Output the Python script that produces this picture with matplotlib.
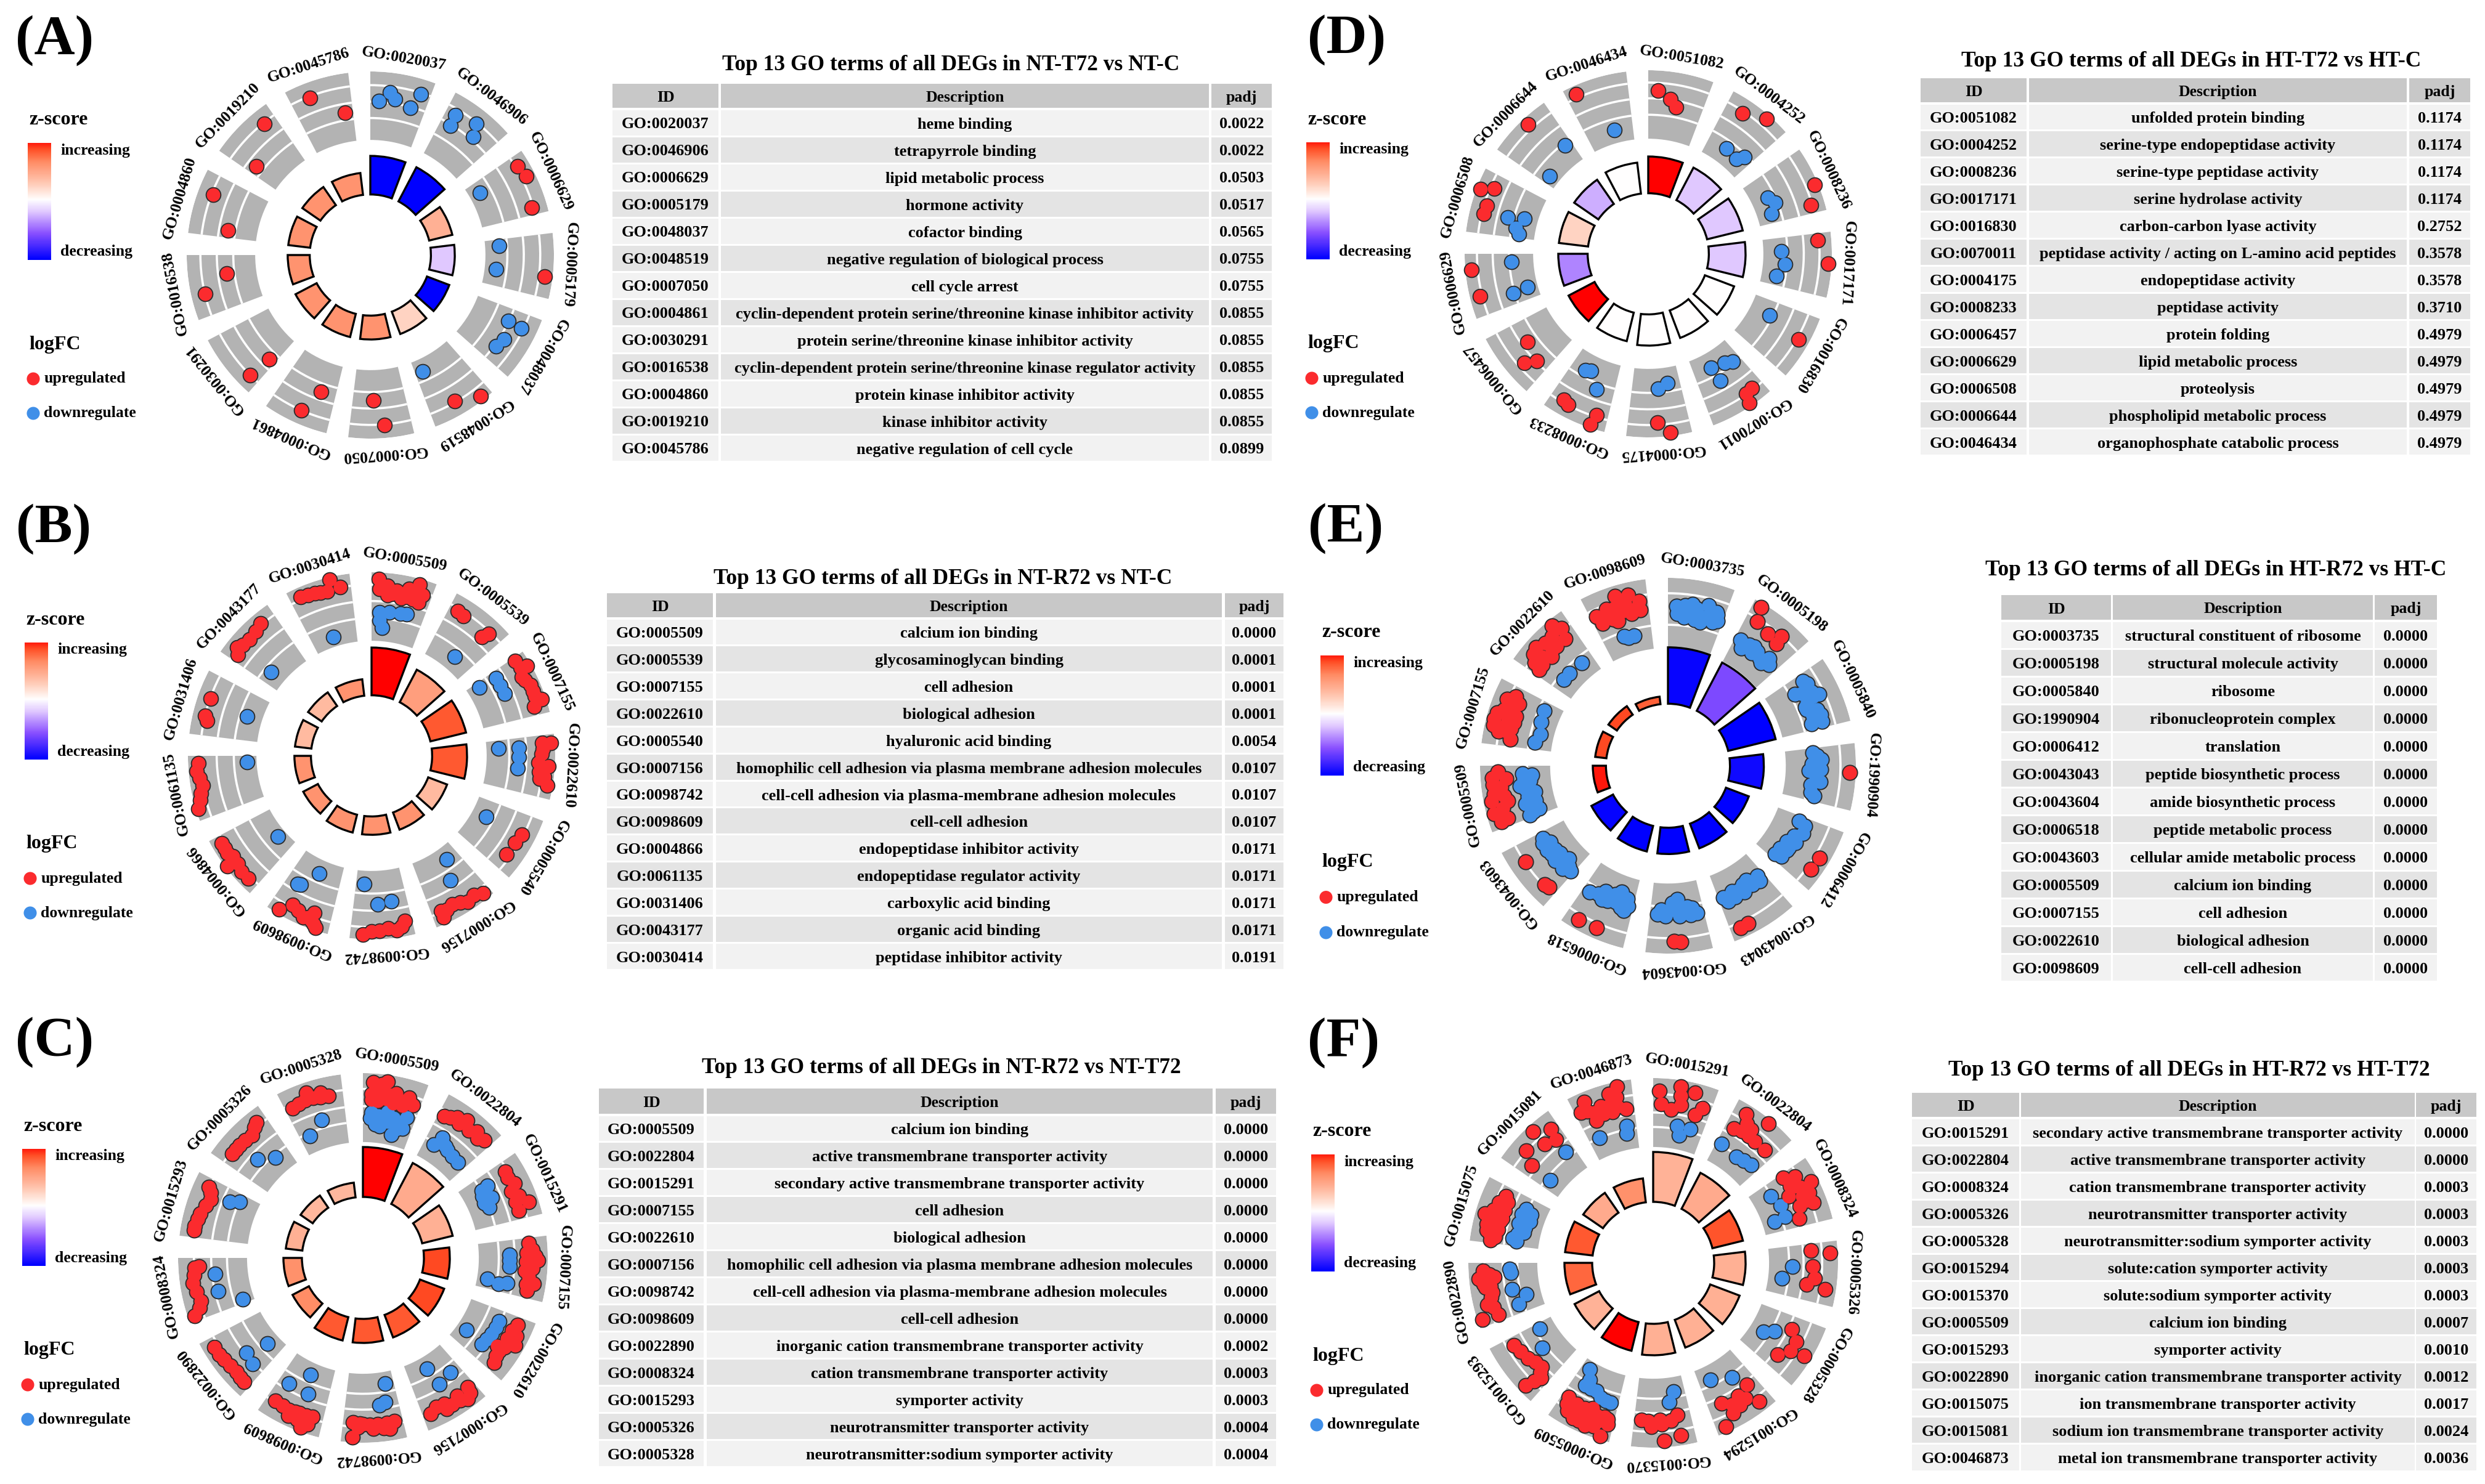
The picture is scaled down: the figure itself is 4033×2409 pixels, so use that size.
import numpy as np
import matplotlib
matplotlib.use("Agg")
import matplotlib.pyplot as plt
from matplotlib.colors import LinearSegmentedColormap
from matplotlib.patches import Rectangle

plt.rcParams["font.family"] = ["Liberation Serif", "DejaVu Serif"]
plt.rcParams["font.weight"] = "bold"

# ---------- Panel A : NT-T72 vs NT-C ----------
A_ids = ["GO:0020037", "GO:0046906", "GO:0006629", "GO:0005179", "GO:0048037", "GO:0048519", "GO:0007050",
         "GO:0004861", "GO:0030291", "GO:0016538", "GO:0004860", "GO:0019210", "GO:0045786"]
A_desc = ["heme binding", "tetrapyrrole binding", "lipid metabolic process", "hormone activity", "cofactor binding",
          "negative regulation of biological process", "cell cycle arrest",
          "cyclin-dependent protein serine/threonine kinase inhibitor activity",
          "protein serine/threonine kinase inhibitor activity",
          "cyclin-dependent protein serine/threonine kinase regulator activity",
          "protein kinase inhibitor activity", "kinase inhibitor activity", "negative regulation of cell cycle"]
A_padj = ["0.0022", "0.0022", "0.0503", "0.0517", "0.0565", "0.0755", "0.0755", "0.0855", "0.0855", "0.0855",
          "0.0855", "0.0855", "0.0899"]
A_bar = [.54, .54, .46, .46, .46, .46, .46, .46, .46, .45, .45, .45, .45]
A_z = [-1, -1, .42, -.2, -1, .22, .58, .58, .58, .58, .58, .58, .58]
A_rings = [.32, .56, .80]
# each term: (position across the sector, position across the logFC band)
A_up = [[], [], [(.17, .83), (.37, .87), (.88, .78)], [(.67, .88)], [], [(.17, .93), (.55, .78)],
        [(.61, .44), (.44, .81)], [(.29, .44), (.49, .8)], [(.12, .44), (.17, .8)], [(.65, .43), (.36, .8)],
        [(.68, .78), (.14, .43)], [(.79, .78), (.16, .43)], [(.32, .78), (.85, .43)]]
A_down = [[(.15, .57), (.33, .71), (.43, .62), (.73, .55), (.84, .78)],
          [(.17, .71), (.2, .54), (.54, .78), (.64, .61)], [(.25, .16)], [(.14, .2), (.64, .17)],
          [(.23, .55), (.25, .77), (.55, .63), (.73, .59)], [(.83, .18)], [], [], [], [], [], [], []]

# ---------- Panel B : NT-R72 vs NT-C ----------
B_ids = ["GO:0005509", "GO:0005539", "GO:0007155", "GO:0022610", "GO:0005540", "GO:0007156", "GO:0098742",
         "GO:0098609", "GO:0004866", "GO:0061135", "GO:0031406", "GO:0043177", "GO:0030414"]
B_desc = ["calcium ion binding", "glycosaminoglycan binding", "cell adhesion", "biological adhesion",
          "hyaluronic acid binding", "homophilic cell adhesion via plasma membrane adhesion molecules",
          "cell-cell adhesion via plasma-membrane adhesion molecules", "cell-cell adhesion",
          "endopeptidase inhibitor activity", "endopeptidase regulator activity", "carboxylic acid binding",
          "organic acid binding", "peptidase inhibitor activity"]
B_padj = ["0.0000", "0.0001", "0.0001", "0.0001", "0.0054", "0.0107", "0.0107", "0.0107", "0.0171", "0.0171",
          "0.0171", "0.0171", "0.0191"]
B_bar = [.59, .53, .53, .52, .44, .43, .43, .43, .42, .42, .42, .42, .42]
B_z = [1, .52, .8, .8, .36, .58, .58, .58, .58, .58, .36, .36, .58]
B_rings = [.33, .58, .82]
B_up = [[(.12, .9), (.26, .81), (.42, .76), (.61, .82), (.75, .92), (.85, .78), (.71, .68), (.51, .66), (.27, .68),
         (.13, .76), (.2, .75), (.35, .75), (.55, .74), (.7, .75), (.35, .7), (.6, .7), (.82, .66)],
        [(.15, .78), (.27, .76), (.78, .79), (.73, .69)],
        [(.05, .83), (.22, .94), (.33, .8), (.51, .86), (.7, .86), (.78, .94), (.85, .8), (.2, .85), (.4, .82), (.62, .86)],
        [(.12, .82), (.13, .94), (.3, .8), (.45, .76), (.5, .91), (.67, .86), (.79, .92), (.7, .8), (.22, .82), (.55, .84), (.6, .78)],
        [(.33, .8), (.5, .77), (.74, .76)],
        [(.12, .9), (.39, .87), (.63, .79), (.84, .8), (.84, .9), (.25, .84), (.5, .82), (.75, .82)],
        [(.12, .78), (.27, .89), (.54, .88), (.8, .93), (.4, .85), (.67, .88), (.18, .85)],
        [(.68, .78), (.83, .94), (.44, .88), (.3, .76), (.2, .96), (.55, .82), (.37, .85), (.3, .88), (.25, .92)],
        [(.87, .85), (.7, .86), (.53, .97), (.46, .83), (.17, .86), (.78, .85), (.6, .82), (.32, .86)],
        [(.88, .85), (.76, .88), (.52, .82), (.4, .87), (.18, .96), (.65, .85), (.3, .9)],
        [(.61, .81), (.32, .82), (.25, .78)],
        [(.74, .84), (.44, .78), (.21, .84), (.12, .77), (.6, .8), (.3, .8)],
        [(.18, .86), (.41, .83), (.61, .81), (.69, .96), (.83, .83), (.3, .84), (.5, .82)]]
B_down = [[(.15, .42), (.34, .43), (.67, .45), (.55, .44), (.22, .2), (.16, .3)],
          [(.59, .21)], [(.11, .18), (.13, .46), (.29, .46), (.46, .46)],
          [(.17, .18), (.18, .47), (.36, .47), (.56, .46)], [(.35, .21)],
          [(.27, .19), (.44, .47)], [(.83, .19), (.55, .49), (.29, .46)],
          [(.49, .2), (.78, .48), (.72, .46)], [(.37, .13)], [(.86, .14)], [(.51, .22)], [(.25, .23)], [(.47, .14)]]

# ---------- Panel C : NT-R72 vs NT-T72 ----------
C_ids = ["GO:0005509", "GO:0022804", "GO:0015291", "GO:0007155", "GO:0022610", "GO:0007156", "GO:0098742",
         "GO:0098609", "GO:0022890", "GO:0008324", "GO:0015293", "GO:0005326", "GO:0005328"]
C_desc = ["calcium ion binding", "active transmembrane transporter activity",
          "secondary active transmembrane transporter activity", "cell adhesion", "biological adhesion",
          "homophilic cell adhesion via plasma membrane adhesion molecules",
          "cell-cell adhesion via plasma-membrane adhesion molecules", "cell-cell adhesion",
          "inorganic cation transmembrane transporter activity", "cation transmembrane transporter activity",
          "symporter activity", "neurotransmitter transporter activity", "neurotransmitter:sodium symporter activity"]
C_padj = ["0.0000", "0.0000", "0.0000", "0.0000", "0.0000", "0.0000", "0.0000", "0.0000", "0.0002", "0.0003",
          "0.0003", "0.0004", "0.0004"]
C_bar = [.6, .58, .5, .47, .47, .46, .46, .46, .43, .43, .42, .41, .41]
C_z = [1, .45, .42, .85, .85, .8, .8, .8, .62, .6, .42, .38, .38]
C_rings = [.29, .52, .77]
C_up = [[(.16, .87), (.38, .9), (.14, .7), (.44, .72), (.77, .74), (.87, .65), (.53, .6), (.26, .61), (.3, .75),
         (.6, .68), (.7, .6), (.4, .65), (.15, .62), (.55, .75), (.3, .85)],
        [(.1, .69), (.3, .77), (.46, .82), (.69, .79), (.88, .77), (.2, .72), (.38, .72), (.58, .72), (.78, .72)],
        [(.16, .73), (.41, .77), (.62, .75), (.77, .86), (.85, .68), (.27, .72), (.5, .68), (.7, .68)],
        [(.09, .73), (.37, .86), (.4, .69), (.65, .74), (.88, .74), (.2, .78), (.25, .7), (.5, .78), (.55, .68), (.78, .72),
         (.3, .82), (.75, .82)],
        [(.13, .76), (.41, .72), (.44, .87), (.66, .71), (.86, .75), (.25, .72), (.55, .75), (.75, .72), (.3, .82), (.6, .65)],
        [(.12, .73), (.24, .87), (.49, .81), (.74, .73), (.87, .78), (.35, .74), (.6, .74), (.35, .82), (.6, .82), (.15, .82)],
        [(.14, .73), (.42, .74), (.67, .73), (.83, .71), (.83, .92), (.23, .83), (.27, .74), (.55, .74), (.33, .8), (.75, .78),
         (.72, .72), (.5, .8)],
        [(.85, .75), (.58, .77), (.18, .74), (.3, .94), (.4, .75), (.7, .76), (.48, .76), (.28, .75), (.22, .86), (.4, .85),
         (.55, .85)],
        [(.84, .83), (.59, .81), (.31, .79), (.11, .81), (.7, .83), (.45, .8), (.2, .8)],
        [(.84, .76), (.59, .81), (.28, .75), (.09, .9), (.72, .78), (.45, .78), (.18, .8), (.85, .7)],
        [(.85, .78), (.68, .68), (.4, .76), (.19, .8), (.78, .72), (.55, .72), (.3, .78), (.12, .8)],
        [(.83, .82), (.64, .72), (.38, .74), (.19, .74), (.75, .78), (.5, .73), (.28, .74)],
        [(.12, .72), (.36, .76), (.62, .73), (.42, .85), (.64, .79), (.25, .74), (.5, .75), (.75, .72)]]
C_down = [[(.16, .43), (.46, .47), (.83, .45), (.25, .27), (.82, .28), (.62, .15), (.5, .33), (.3, .4), (.6, .4), (.7, .35),
           (.35, .25), (.7, .25), (.15, .35)],
          [(.21, .26), (.28, .41), (.5, .31), (.83, .27), (.35, .35), (.42, .33), (.65, .28)],
          [(.22, .4), (.36, .27), (.61, .29), (.25, .3), (.45, .38), (.5, .25)],
          [(.28, .45), (.49, .45), (.79, .15), (.81, .44), (.86, .32), (.38, .45)],
          [(.68, .15), (.73, .45), (.47, .49), (.2, .5), (.33, .5), (.6, .47)], [(.55, .18), (.2, .41), (.5, .46)],
          [(.18, .17), (.25, .43), (.36, .47)], [(.49, .18), (.8, .43), (.39, .45)],
          [(.31, .18), (.45, .5), (.22, .54)], [(.09, .16), (.38, .47), (.7, .48)],
          [(.77, .41), (.85, .28)], [(.41, .41), (.69, .25)], [(.53, .41), (.2, .25)]]

# ---------- Panel D : HT-T72 vs HT-C ----------
D_ids = ["GO:0051082", "GO:0004252", "GO:0008236", "GO:0017171", "GO:0016830", "GO:0070011", "GO:0004175",
         "GO:0008233", "GO:0006457", "GO:0006629", "GO:0006508", "GO:0006644", "GO:0046434"]
D_desc = ["unfolded protein binding", "serine-type endopeptidase activity", "serine-type peptidase activity",
          "serine hydrolase activity", "carbon-carbon lyase activity",
          "peptidase activity / acting on L-amino acid peptides", "endopeptidase activity", "peptidase activity",
          "protein folding", "lipid metabolic process", "proteolysis", "phospholipid metabolic process",
          "organophosphate catabolic process"]
D_padj = ["0.1174", "0.1174", "0.1174", "0.1174", "0.2752", "0.3578", "0.3578", "0.3710", "0.4979", "0.4979",
          "0.4979", "0.4979", "0.4979"]
D_bar = [.53, .53, .53, .53, .5, .49, .5, .49, .49, .49, .49, .49, .5]
D_z = [1, -.2, -.2, -.2, 0, 0, 0, 0, 1, -.4, .22, -.28, 0]
D_rings = [.35, .59, .82]
D_up = [[(.17, .71), (.39, .6), (.51, .5)], [(.3, .79), (.65, .94)], [(.58, .95), (.87, .8)], [(.11, .8), (.48, .95)],
        [(.43, .85)], [(.19, .79), (.31, .81), (.36, .95)], [(.52, .79), (.33, .95)],
        [(.78, .78), (.68, .81), (.19, .79), (.24, .95)], [(.59, .5), (.34, .73), (.22, .58)],
        [(.75, .91), (.32, .85)], [(.68, .94), (.77, .76), (.46, .78), (.33, .79)], [(.6, .9)], [(.16, .88)]]
D_down = [[], [(.43, .24), (.73, .21), (.83, .31)], [(.46, .25), (.61, .32), (.8, .21)],
          [(.28, .26), (.54, .32), (.81, .22)], [(.3, .31)],
          [(.61, .22), (.31, .26), (.17, .32), (.57, .45)], [(.26, .23), (.47, .29)],
          [(.7, .25), (.59, .22), (.34, .44)], [], [(.84, .32), (.26, .15), (.22, .37)],
          [(.37, .44), (.43, .2), (.2, .29), (.09, .23)], [(.86, .32), (.17, .15)], [(.6, .19)]]

# ---------- Panel E : HT-R72 vs HT-C ----------
E_ids = ["GO:0003735", "GO:0005198", "GO:0005840", "GO:1990904", "GO:0006412", "GO:0043043", "GO:0043604",
         "GO:0006518", "GO:0043603", "GO:0005509", "GO:0007155", "GO:0022610", "GO:0098609"]
E_desc = ["structural constituent of ribosome", "structural molecule activity", "ribosome",
          "ribonucleoprotein complex", "translation", "peptide biosynthetic process", "amide biosynthetic process",
          "peptide metabolic process", "cellular amide metabolic process", "calcium ion binding", "cell adhesion",
          "biological adhesion", "cell-cell adhesion"]
E_padj = ["0.0000"] * 13
E_bar = [.63, .62, .59, .51, .46, .47, .47, .47, .46, .40, .39, .385, .37]
E_z = [-.97, -.6, -1, -.95, -1, -1, -1, -1, -.98, .95, .85, .85, .78]
E_rings = [.33, .78]
E_up = [[], [(.13, .94), (.2, .74), (.45, .68), (.65, .77), (.67, .65)], [], [(.44, .91)], [(.51, .85), (.73, .84)],
        [(.7, .84), (.84, .85)], [(.57, .83), (.46, .84)], [(.78, .86), (.48, .85)], [(.7, .77), (.14, .74), (.22, .76)],
        [(.81, .83), (.78, .64), (.55, .83), (.4, .66), (.26, .89), (.13, .72), (.65, .72), (.9, .75), (.7, .83), (.5, .7),
         (.3, .75), (.2, .8), (.45, .88), (.1, .82)],
        [(.84, .7), (.58, .79), (.39, .89), (.53, .6), (.22, .79), (.13, .6), (.35, .7), (.75, .8), (.65, .68), (.45, .7),
         (.3, .62), (.25, .7), (.42, .6), (.75, .62), (.5, .87), (.3, .87)],
        [(.76, .91), (.79, .65), (.5, .79), (.41, .59), (.25, .81), (.1, .61), (.58, .72), (.65, .8), (.6, .65), (.5, .65),
         (.3, .7), (.2, .62), (.35, .85), (.15, .72), (.85, .8)],
        [(.1, .68), (.43, .7), (.7, .82), (.85, .7), (.69, .55), (.42, .5), (.25, .6), (.55, .62), (.2, .6), (.3, .72),
         (.55, .78), (.75, .6), (.62, .72), (.35, .55), (.15, .55), (.85, .58), (.5, .85)]]
E_down = [[(.17, .49), (.42, .65), (.68, .68), (.87, .58), (.83, .46), (.5, .44), (.3, .62), (.65, .5), (.3, .45), (.5, .6),
           (.7, .5), (.15, .6), (.9, .5), (.42, .52), (.6, .42), (.85, .62)],
          [(.11, .39), (.43, .32), (.83, .36), (.3, .4), (.62, .33), (.2, .3), (.5, .38), (.7, .3), (.75, .42), (.4, .42)],
          [(.13, .59), (.44, .61), (.67, .59), (.89, .61), (.88, .45), (.3, .48), (.55, .45), (.2, .62), (.35, .62), (.5, .5),
           (.6, .45), (.75, .5), (.78, .62), (.45, .7), (.25, .4)],
          [(.09, .39), (.22, .51), (.43, .33), (.62, .5), (.84, .39), (.4, .5), (.3, .38), (.5, .42), (.7, .38), (.15, .45), (.9, .45)],
          [(.11, .35), (.28, .47), (.56, .33), (.86, .39), (.7, .4), (.15, .45), (.4, .38), (.5, .45), (.65, .4), (.75, .3), (.9, .3)],
          [(.12, .34), (.46, .32), (.84, .44), (.22, .38), (.6, .36), (.3, .4), (.35, .3), (.5, .42), (.7, .42), (.7, .33),
           (.15, .42), (.9, .36)],
          [(.47, .23), (.13, .46), (.37, .43), (.71, .46), (.86, .44), (.55, .38), (.2, .38), (.5, .38), (.3, .35), (.6, .35),
           (.45, .47), (.8, .38), (.25, .47), (.58, .28)],
          [(.3, .24), (.1, .4), (.49, .43), (.86, .44), (.6, .32), (.25, .36), (.2, .36), (.15, .3), (.35, .4), (.7, .4),
           (.4, .3), (.6, .45), (.22, .45), (.15, .48)],
          [(.88, .38), (.57, .32), (.25, .26), (.06, .37), (.4, .42), (.72, .36), (.8, .42), (.65, .42), (.55, .4), (.3, .35),
           (.15, .33), (.75, .32), (.45, .3), (.2, .42)],
          [(.81, .27), (.62, .45), (.47, .25), (.28, .42), (.12, .25), (.05, .41), (.75, .38), (.7, .3), (.55, .38), (.4, .36),
           (.2, .35), (.85, .4), (.1, .34), (.3, .27)],
          [(.82, .25), (.58, .23), (.33, .19), (.14, .25)], [(.74, .23), (.41, .25), (.24, .25)],
          [(.51, .23), (.43, .27), (.63, .24)]]

# ---------- Panel F : HT-R72 vs HT-T72 ----------
F_ids = ["GO:0015291", "GO:0022804", "GO:0008324", "GO:0005326", "GO:0005328", "GO:0015294", "GO:0015370",
         "GO:0005509", "GO:0015293", "GO:0022890", "GO:0015075", "GO:0015081", "GO:0046873"]
F_desc = ["secondary active transmembrane transporter activity", "active transmembrane transporter activity",
          "cation transmembrane transporter activity", "neurotransmitter transporter activity",
          "neurotransmitter:sodium symporter activity", "solute:cation symporter activity",
          "solute:sodium symporter activity", "calcium ion binding", "symporter activity",
          "inorganic cation transmembrane transporter activity", "ion transmembrane transporter activity",
          "sodium ion transmembrane transporter activity", "metal ion transmembrane transporter activity"]
F_padj = ["0.0000", "0.0000", "0.0003", "0.0003", "0.0003", "0.0003", "0.0003", "0.0007", "0.0010", "0.0012",
          "0.0017", "0.0024", "0.0036"]
F_bar = [.6, .55, .5, .5, .5, .49, .5, .49, .48, .48, .48, .46, .46]
F_z = [.4, .45, .82, .42, .42, .42, .42, 1, .4, .75, .8, .45, .6]
F_rings = [.29, .5, .77]
F_up = [[(.1, .81), (.43, .91), (.67, .86), (.14, .63), (.48, .64), (.85, .67), (.76, .55), (.32, .56), (.45, .77)],
        [(.21, .86), (.16, .59), (.42, .72), (.57, .94), (.59, .62), (.82, .62), (.3, .62), (.45, .62), (.3, .75)],
        [(.07, .57), (.16, .72), (.35, .89), (.41, .51), (.51, .69), (.67, .8), (.85, .53), (.25, .6), (.65, .6), (.3, .65),
         (.5, .8), (.6, .72), (.35, .72)],
        [(.12, .61), (.18, .89), (.4, .63), (.72, .57), (.76, .84), (.6, .67)],
        [(.23, .55), (.39, .69), (.75, .56), (.57, .69), (.52, .89)],
        [(.2, .55), (.43, .61), (.75, .59), (.2, .85), (.85, .92), (.49, .74), (.65, .79), (.35, .7), (.6, .67)],
        [(.87, .6), (.52, .66), (.23, .55), (.23, .85), (.5, .91), (.7, .7), (.35, .62), (.55, .6), (.75, .62)],
        [(.88, .62), (.78, .8), (.56, .74), (.42, .6), (.43, .88), (.18, .66), (.09, .75), (.15, .94), (.7, .65), (.3, .78),
         (.8, .7), (.65, .85), (.55, .85), (.3, .84), (.3, .68), (.55, .65), (.25, .75), (.45, .75), (.65, .7), (.12, .68),
         (.4, .67), (.85, .72)],
        [(.86, .67), (.53, .6), (.26, .53), (.13, .65), (.22, .88), (.7, .63), (.4, .55), (.2, .6), (.17, .75)],
        [(.87, .79), (.75, .86), (.75, .63), (.5, .69), (.32, .8), (.11, .68), (.12, .93), (.6, .78), (.8, .7), (.65, .8),
         (.6, .7), (.42, .72), (.25, .72)],
        [(.84, .66), (.45, .86), (.56, .66), (.11, .65), (.31, .71), (.7, .72), (.22, .7), (.45, .6), (.7, .7), (.55, .76),
         (.4, .76), (.3, .8), (.2, .78), (.6, .6), (.4, .62), (.15, .72), (.75, .6), (.25, .62), (.05, .7)],
        [(.62, .9), (.87, .76), (.63, .65), (.82, .6), (.33, .78), (.2, .58)],
        [(.22, .86), (.1, .74), (.44, .71), (.77, .93), (.73, .78), (.85, .59), (.29, .54), (.61, .59), (.45, .6), (.3, .66),
         (.6, .7), (.72, .65), (.2, .72), (.62, .85)]]
F_down = [[(.48, .33), (.75, .33), (.55, .21)], [(.11, .31), (.5, .27), (.83, .33), (.66, .3)],
          [(.25, .28), (.5, .35), (.77, .18), (.74, .34)], [(.41, .34), (.66, .2)], [(.54, .21), (.42, .34)],
          [(.75, .21), (.34, .34)], [(.23, .21), (.35, .35)],
          [(.81, .12), (.73, .35), (.48, .35), (.15, .44), (.6, .35), (.7, .25), (.35, .42), (.25, .44)],
          [(.88, .22), (.53, .35)], [(.81, .39), (.49, .4), (.33, .22), (.18, .36), (.88, .4)],
          [(.77, .32), (.56, .2), (.46, .35), (.15, .39), (.3, .25), (.65, .35), (.4, .25), (.25, .33), (.55, .3), (.7, .22), (.1, .33)],
          [(.82, .37), (.2, .23)], [(.22, .29), (.8, .34), (.78, .23)]]

# titles of the tables
A_title = "Top 13 GO terms of all DEGs in NT-T72 vs NT-C"
B_title = "Top 13 GO terms of all DEGs in NT-R72 vs NT-C"
C_title = "Top 13 GO terms of all DEGs in NT-R72 vs NT-T72"
D_title = "Top 13 GO terms of all DEGs in HT-T72 vs HT-C"
E_title = "Top 13 GO terms of all DEGs in HT-R72 vs HT-C"
F_title = "Top 13 GO terms of all DEGs in HT-R72 vs HT-T72"

W, H = 4033, 2409
fig = plt.figure(figsize=(W / 100, H / 100), dpi=100, facecolor="white")

# one axes over the whole figure, in pixels, for the legends and tables
page = fig.add_axes([0, 0, 1, 1])

zcmap = LinearSegmentedColormap.from_list(
    "zscore", [(0, "#0000FF"), (.22, "#8A50FF"), (.4, "#E0C8FF"), (.5, "#FFFFFF"),
               (.62, "#FFD0BD"), (.72, "#FFAC8F"), (.82, "#FF8A62"), (.92, "#FF4E25"), (1, "#FF0000")])
gradient = np.linspace(.97, 0, 256).reshape(-1, 1)

RED = "#FB2B2E"
BLUE = "#408FE8"
STEP = 2 * np.pi / 13
WIDTH = STEP * .75
HOLE = .33
BAND = .627


def draw_circle(cx, cy, radius, ids, bar, z, rings, up, down):
    ax = fig.add_axes([(cx - radius) / W, 1 - (cy + radius) / H, 2 * radius / W, 2 * radius / H], polar=True)
    ax.set_theta_zero_location("N")
    ax.set_theta_direction(-1)
    ax.set_ylim(0, 1)
    ax.axis("off")
    starts = np.arange(13) * STEP
    scale = (radius / 298) ** 2

    # grey logFC band with its white rings
    ax.bar(starts, 1 - BAND, WIDTH, bottom=BAND, align="edge", color="#B3B3B3", linewidth=0)
    for level in rings:
        ax.bar(starts, .012, WIDTH, bottom=BAND + level * (1 - BAND) - .006, align="edge", color="white", linewidth=0)

    # z-score bars
    colors = [zcmap((v + 1) / 2) for v in z]
    ax.bar(starts, np.array(bar) - HOLE, WIDTH, bottom=HOLE, align="edge", color=colors,
           edgecolor="black", linewidth=2.4)

    # points: dark discs first so overlapping ones share one outline
    for groups, color in ((down, BLUE), (up, RED)):
        theta = [(i + a * .75) * STEP for i, g in enumerate(groups) for a, r in g]
        rad = [BAND + r * (1 - BAND) for g in groups for a, r in g]
        ax.scatter(theta, rad, s=340 * scale, color="#2B2B2B", linewidth=0, clip_on=False, zorder=5)
        ax.scatter(theta, rad, s=250 * scale, color=color, linewidth=0, clip_on=False, zorder=6)

    for i, name in enumerate(ids):
        angle = (i + .35) * STEP
        ax.text(angle, 1.085, name, rotation=-np.degrees(angle), rotation_mode="anchor",
                ha="center", va="center", fontsize=18.5)


def draw_legend(x0, top, label, lx, ly, k=1.0):
    page.imshow(gradient, extent=(x0, x0 + 38, top + 190 * k, top), aspect="auto", cmap=zcmap, vmin=0, vmax=1)
    page.text(lx, ly, label, fontsize=66, ha="center", va="center")
    page.text(x0 + 2, top - 37 * k, "z-score", fontsize=23, va="center")
    page.text(x0 + 53, top + 12 * k, "increasing", fontsize=18.5, va="center")
    page.text(x0 + 53, top + 177 * k, "decreasing", fontsize=18.5, va="center")
    page.text(x0 + 2, top + 327 * k, "logFC", fontsize=23, va="center")
    page.scatter([x0 + 9, x0 + 9], [top + 383 * k, top + 439 * k], s=[230, 230], color=[RED, BLUE], linewidth=0)
    page.text(x0 + 27, top + 383 * k, "upregulated", fontsize=18.5, va="center")
    page.text(x0 + 26, top + 439 * k, "downregulate", fontsize=18.5, va="center")


def draw_table(title, title_x, title_y, col_x, y0, y1, y2, ids, desc, padj):
    page.text(title_x, title_y, title, fontsize=25.5, ha="center", va="center")
    cells = list(zip(col_x[:-1:2], col_x[1::2]))
    row_h = (y2 - y1) / 13
    for (xa, xb), head in zip(cells, ["ID", "Description", "padj"]):
        page.add_patch(Rectangle((xa, y0), xb - xa, y1 - y0 - 2, color="#C8C8C8", linewidth=0))
        page.text((xa + xb) / 2, (y0 + y1) / 2 + 2, head, fontsize=18.5, ha="center", va="center")
    for row in range(13):
        y = y1 + row * row_h
        shade = "#F2F2F2" if row % 2 == 0 else "#E4E4E4"
        for (xa, xb), cell in zip(cells, [ids[row], desc[row], padj[row]]):
            page.add_patch(Rectangle((xa, y + 1.5), xb - xa, row_h - 3, color=shade, linewidth=0))
            page.text((xa + xb) / 2, y + row_h / 2 + 3, cell, fontsize=19, ha="center", va="center")


draw_legend(45, 232, "(A)", 89, 66)
draw_legend(40, 1043, "(B)", 87, 859)
draw_legend(36, 1865, "(C)", 89, 1692)
draw_legend(2120, 231, "(D)", 2186, 65)
draw_legend(2143, 1064, "(E)", 2184, 858, k=1.025)
draw_legend(2128, 1874, "(F)", 2181, 1693)

draw_table(A_title, 1543, 106, [994, 1166, 1170, 1962, 1966, 2064], 136, 177, 749, A_ids, A_desc, A_padj)
draw_table(B_title, 1530, 939, [985, 1157, 1162, 1983, 1988, 2083], 963, 1004, 1574, B_ids, B_desc, B_padj)
draw_table(C_title, 1528, 1734, [972, 1142, 1147, 1968, 1973, 2071], 1767, 1810, 2381, C_ids, C_desc, C_padj)
draw_table(D_title, 3556, 100, [3117, 3289, 3293, 3906, 3910, 4009], 127, 168, 739, D_ids, D_desc, D_padj)
draw_table(E_title, 3596, 926, [3248, 3426, 3429, 3851, 3854, 3955], 966, 1008, 1593, E_ids, E_desc, E_padj)
draw_table(F_title, 3553, 1738, [3103, 3277, 3280, 3919, 3921, 4019], 1774, 1815, 2388, F_ids, F_desc, F_padj)

page.set_xlim(0, W)
page.set_ylim(H, 0)
page.axis("off")

draw_circle(601, 414, 298, A_ids, A_bar, A_z, A_rings, A_up, A_down)
draw_circle(603, 1227, 298, B_ids, B_bar, B_z, B_rings, B_up, B_down)
draw_circle(589, 2042, 300, C_ids, C_bar, C_z, C_rings, C_up, C_down)
draw_circle(2675, 412, 298, D_ids, D_bar, D_z, D_rings, D_up, D_down)
draw_circle(2707, 1243, 305, E_ids, E_bar, E_z, E_rings, E_up, E_down)
draw_circle(2683, 2050, 300, F_ids, F_bar, F_z, F_rings, F_up, F_down)

fig.savefig("out.png", dpi=100)
